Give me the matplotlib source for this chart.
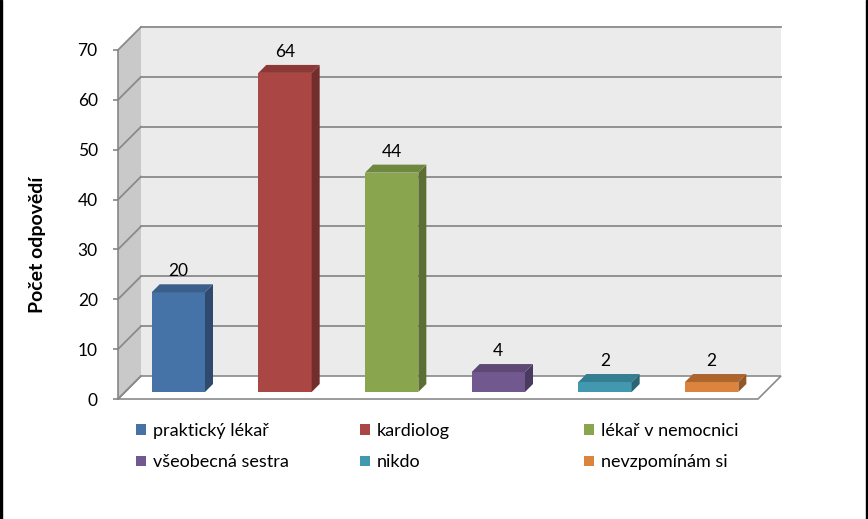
"""3D-style column chart: Počet odpovědí by who informed the respondent."""

import matplotlib

matplotlib.use("Agg")
import matplotlib.pyplot as plt
from matplotlib.patches import Patch, Polygon, Rectangle

categories = [
    "praktický lékař",
    "kardiolog",
    "lékař v nemocnici",
    "všeobecná sestra",
    "nikdo",
    "nevzpomínám si",
]
values = [20, 64, 44, 4, 2, 2]
y_ticks = [0, 10, 20, 30, 40, 50, 60, 70]

front_colors = ["#4572A7", "#AA4643", "#89A54E", "#71588F", "#4198AF", "#DB843D"]
side_colors = ["#2E4A6E", "#722E2C", "#5B6E33", "#4B3A5F", "#2B6574", "#935827"]
top_colors = ["#3A5F8B", "#8C3836", "#6F8840", "#5D4876", "#357D90", "#AC652D"]

plt.rcParams["font.family"] = ["Lato", "DejaVu Sans"]

W, H = 868, 519
fig = plt.figure(figsize=(W / 100, H / 100), dpi=100)

# front plane of the plot area, in pixels
x0_px, x1_px, y0_px, y1_px = 118, 758, 399, 50
ax = fig.add_axes([x0_px / W, 1 - y0_px / H, (x1_px - x0_px) / W, (y0_px - y1_px) / H])
n = len(categories)
ymax = 70
ax.set_xlim(-0.5, n - 0.5)
ax.set_ylim(0, ymax)

px_per_cat = (x1_px - x0_px) / n
px_per_val = (y0_px - y1_px) / ymax


def depth(px):
    return px / px_per_cat, px / px_per_val


dx, dy = depth(23)
lo, hi = -0.5, n - 0.5

# walls and floor
ax.add_patch(Polygon([(lo + dx, dy), (hi + dx, dy), (hi + dx, ymax + dy), (lo + dx, ymax + dy)],
                     closed=True, facecolor="#EBEBEB", edgecolor="none", zorder=1, clip_on=False))
ax.add_patch(Polygon([(lo, 0), (lo + dx, dy), (lo + dx, ymax + dy), (lo, ymax)],
                     closed=True, facecolor="#C9C9C9", edgecolor="none", zorder=1, clip_on=False))
ax.add_patch(Polygon([(lo, 0), (hi, 0), (hi + dx, dy), (lo + dx, dy)],
                     closed=True, facecolor="white", edgecolor="#8A8A8A", linewidth=1.2,
                     zorder=2, clip_on=False))

grid_color = "#8A8A8A"
for t in y_ticks[1:]:
    ax.plot([lo + dx, hi + dx], [t + dy, t + dy], color=grid_color, lw=1.3, zorder=2, clip_on=False)
    ax.plot([lo, lo + dx], [t, t + dy], color=grid_color, lw=1.3, zorder=2, clip_on=False)
ax.plot([lo, lo + dx], [0, dy], color=grid_color, lw=1.3, zorder=2, clip_on=False)

# bars
bx0, by0 = depth(7)
bx1, by1 = depth(15)
half = 0.25
for i, v in enumerate(values):
    left, right = i - half, i + half
    ax.bar(i + bx0, v, width=2 * half, bottom=by0, color=front_colors[i], zorder=5)
    ax.add_patch(Polygon([(right + bx0, by0), (right + bx1, by1), (right + bx1, v + by1), (right + bx0, v + by0)],
                         closed=True, facecolor=side_colors[i], edgecolor="none", zorder=5, clip_on=False))
    ax.add_patch(Polygon([(left + bx0, v + by0), (right + bx0, v + by0), (right + bx1, v + by1), (left + bx1, v + by1)],
                         closed=True, facecolor=top_colors[i], edgecolor="none", zorder=5, clip_on=False))
    ax.annotate(str(v), (i + bx0, v + by0), xytext=(0, 15), textcoords="offset points",
                ha="center", va="center", fontsize=12.5, zorder=6)

ax.set_yticks(y_ticks)
ax.set_xticks([])
for side in ("top", "right", "bottom"):
    ax.spines[side].set_visible(False)
ax.spines["left"].set_color("#868686")
ax.spines["left"].set_linewidth(1.2)
ax.spines["left"].set_zorder(3)
ax.tick_params(axis="y", direction="out", length=3.6, width=1.2, color="#868686", pad=11, labelsize=12.5)
ax.patch.set_visible(False)

fig.text(38 / W, 1 - 245 / H, "Počet odpovědí", rotation=90, ha="center", va="center",
         fontsize=14, fontweight="bold")

# legend: three columns of two entries
col_x = [136, 360, 584]
for c in range(3):
    idx = [c, c + 3]
    handles = [Patch(facecolor=front_colors[k], edgecolor="none") for k in idx]
    fig.legend(handles, [categories[k] for k in idx], loc="upper left",
               bbox_to_anchor=(col_x[c] / W, 1 - 423 / H), frameon=False, fontsize=13,
               borderpad=0, borderaxespad=0, handlelength=0.55, handleheight=0.55,
               handletextpad=0.4, labelspacing=0.85)

# black outer border on left and right
fig.add_artist(Rectangle((0, 0), 2 / W, 1, transform=fig.transFigure, color="black"))
fig.add_artist(Rectangle((1 - 2 / W, 0), 2 / W, 1, transform=fig.transFigure, color="black"))

fig.savefig("out.png", dpi=100)
